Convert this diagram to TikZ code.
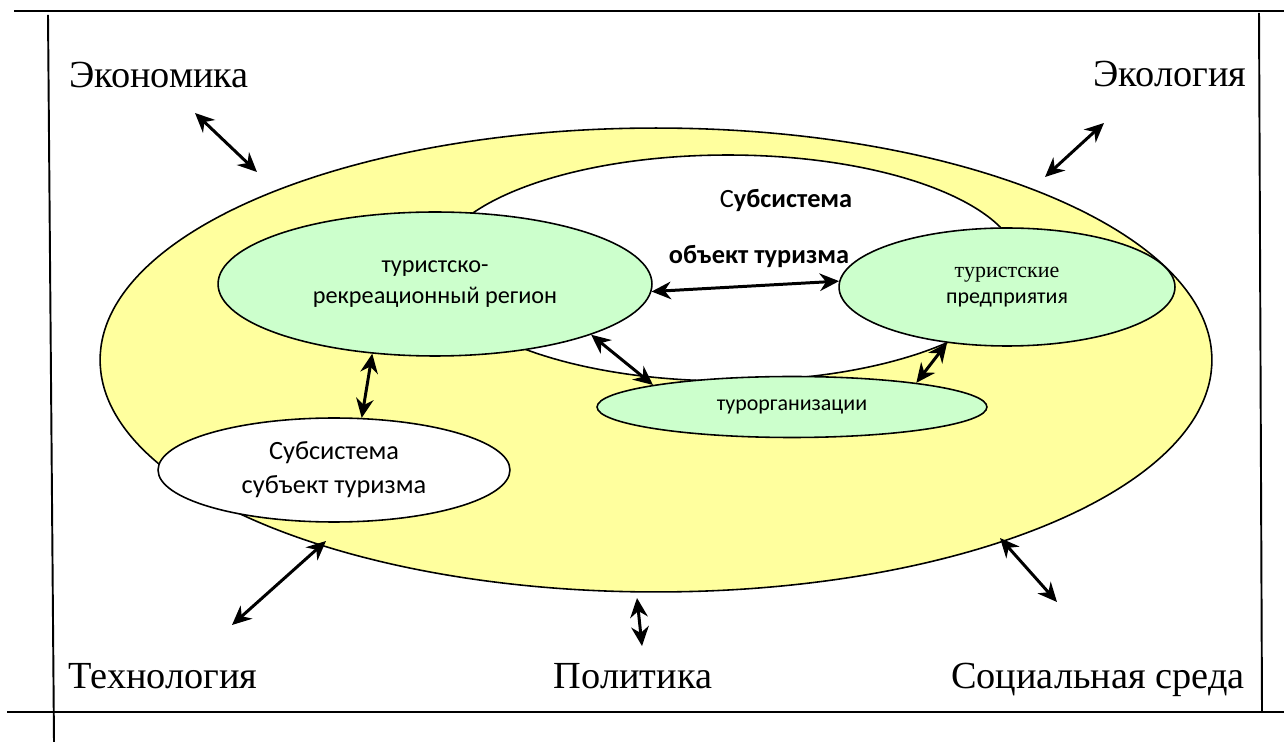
\documentclass[tikz,border=0pt]{standalone}
\usepackage{fontspec}
\setmainfont{Liberation Serif}
\newfontfamily\calibri{Carlito}
\usetikzlibrary{shapes.geometric,arrows.meta}

\definecolor{paleyellow}{RGB}{255,255,158}
\definecolor{palegreen}{RGB}{204,255,204}

\tikzset{
	oval/.style={ellipse, draw=black, line width=0.9pt, inner sep=0pt, align=center},
	dbl/.style={{Stealth[length=11pt,width=10pt]}-{Stealth[length=11pt,width=10pt]}, line width=1.7pt},
	factor/.style={font=\fontsize{21.8}{26}\selectfont, anchor=base},
	frame/.style={line width=1.1pt}
}

\begin{document}
\begin{tikzpicture}[x=0.02cm,y=-0.02cm]
	\useasboundingbox (0,0) rectangle (1284,742);

	% frame
	\draw[frame] (14,11) -- (1284,11);
	\draw[frame] (7,712) -- (1284,712);
	\draw[frame] (48,15) -- (54,742);
	\draw[frame] (1259,13) -- (1262,712);

	% environment
	\node[oval, fill=paleyellow, minimum width=22.24cm, minimum height=9.28cm] (env) at (656,360) {};
	\node[oval, fill=white, minimum width=11.68cm, minimum height=4.52cm] (obj) at (728,268) {};

	\node[font=\calibri\fontsize{15}{18}\selectfont] (objtitle) at (786,200) {С\textbf{убсистема}};
	\node[font=\calibri\bfseries\fontsize{15}{18}\selectfont] (objname) at (759,256) {объект туризма};

	\node[oval, fill=palegreen, minimum width=8.68cm, minimum height=2.88cm,
		font=\calibri\fontsize{13.8}{17.6}\selectfont] (reg) at (435,284) {туристско-\\рекреационный регион};
	\node[oval, fill=palegreen, minimum width=6.72cm, minimum height=2.36cm,
		font=\calibri\fontsize{12.5}{14.8}\selectfont] (pred) at (1007,287) {{\rmfamily туристские}\\предприятия};
	\node[oval, fill=palegreen, minimum width=7.8cm, minimum height=1.22cm,
		font=\calibri\fontsize{12.5}{15}\selectfont] (tour) at (792,407) {турорганизации};
	\node[oval, fill=white, minimum width=7.04cm, minimum height=2.08cm,
		font=\calibri\fontsize{15}{19.4}\selectfont] (subj) at (334,470) {Субсистема\\субъект туризма};

	% factors
	\node[factor] (econ) at (159,88) {Экономика};
	\node[factor] (ecol) at (1170,87) {Экология};
	\node[factor] (tech) at (163,688) {Технология};
	\node[factor] (pol) at (633,688) {Политика};
	\node[factor] (soc) at (1098,688) {Социальная среда};

	\coordinate (econa) at (195,113);
	\coordinate (econb) at (257,172);
	\coordinate (ecola) at (1104,123);
	\coordinate (ecolb) at (1045,177);
	\coordinate (techa) at (232,625);
	\coordinate (techb) at (326,541);
	\coordinate (pola) at (642,646);
	\coordinate (polb) at (637,598);
	\coordinate (soca) at (1057,602);
	\coordinate (socb) at (1000,538);

	% links
	\draw[dbl] (econa) -- (econb);
	\draw[dbl] (ecola) -- (ecolb);
	\draw[dbl] (techa) -- (techb);
	\draw[dbl] (pola) -- (polb);
	\draw[dbl] (soca) -- (socb);

	\draw[dbl] (reg.-2) -- (pred.178);
	\draw[dbl] (reg.-18) -- (tour.171);
	\draw[dbl] (pred.-137) -- (tour.11);
	\draw[dbl] (reg.-132) -- (subj.62);
\end{tikzpicture}
\end{document}
